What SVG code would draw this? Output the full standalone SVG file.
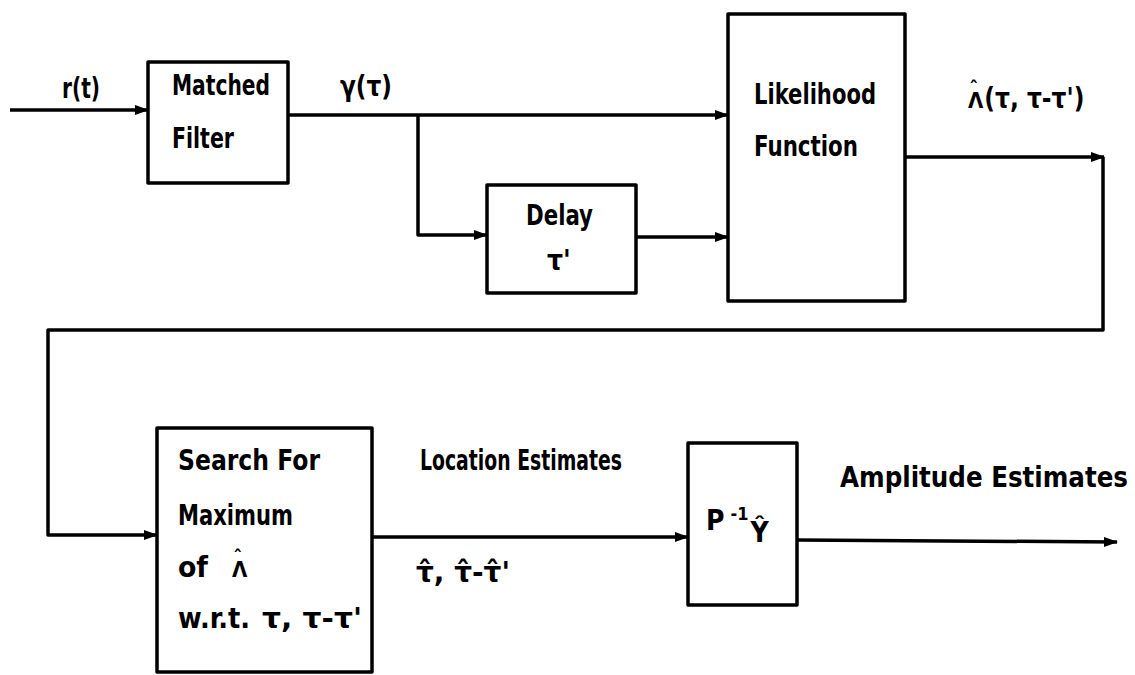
<svg xmlns="http://www.w3.org/2000/svg" width="1135" height="675" viewBox="0 0 1135 675">
<style>
  .box { fill: none; stroke: #000; stroke-width: 3.5; stroke-linejoin: round; }
  .wire { fill: none; stroke: #000; stroke-width: 3.5; stroke-linejoin: round; }
  .t { font-family: "DejaVu Sans Condensed", "Liberation Sans", sans-serif; font-weight: bold; font-size: 28px; fill: #000; white-space: pre; }
</style>
<defs>
  <marker id="arr" markerUnits="userSpaceOnUse" markerWidth="14" markerHeight="10" refX="13" refY="5" orient="auto">
    <path d="M0,0 L14,5 L0,10 z" fill="#000"/>
  </marker>
</defs>
<rect width="1135" height="675" fill="#fff"/>

<g id="connectors">
  <path class="wire" d="M10,110 L148,110" marker-end="url(#arr)"/>
  <path class="wire" d="M288,115 L728,115" marker-end="url(#arr)"/>
  <path class="wire" d="M418,115 L418,235 L487,235" marker-end="url(#arr)"/>
  <path class="wire" d="M636,237 L728,237" marker-end="url(#arr)"/>
  <path class="wire" d="M905,157 L1104,157" marker-end="url(#arr)"/>
  <path class="wire" d="M1103,157 L1103,330 L48,330 L48,535 L157,535" marker-end="url(#arr)"/>
  <path class="wire" d="M372,537 L688,537" marker-end="url(#arr)"/>
  <path class="wire" d="M797,540 L1117,542" marker-end="url(#arr)"/>
</g>

<g id="labels">
  <text class="t" x="62" y="98" textLength="38" lengthAdjust="spacingAndGlyphs">r(t)</text>
  <text class="t" x="340" y="96" textLength="52" lengthAdjust="spacingAndGlyphs">γ(τ)</text>
  <text class="t" x="968" y="108"><tspan font-size="22">Λ</tspan><tspan font-size="20" dx="-14" dy="-13">ˆ</tspan><tspan dy="13" dx="6" textLength="100" lengthAdjust="spacingAndGlyphs">(τ, τ-τ')</tspan></text>
  <text class="t" x="420" y="470" textLength="202" lengthAdjust="spacingAndGlyphs">Location Estimates</text>
  <text class="t" x="416" y="582" textLength="94" lengthAdjust="spacingAndGlyphs">τ̂, τ̂-τ̂'</text>
  <text class="t" x="840" y="487" textLength="288" lengthAdjust="spacingAndGlyphs">Amplitude Estimates</text>
</g>

<g id="matched-filter">
  <rect class="box" x="148" y="62" width="140" height="121"/>
  <text class="t" x="172" y="95" textLength="98" lengthAdjust="spacingAndGlyphs">Matched</text>
  <text class="t" x="172" y="148" textLength="62" lengthAdjust="spacingAndGlyphs">Filter</text>
</g>

<g id="delay">
  <rect class="box" x="487" y="185" width="149" height="108"/>
  <text class="t" x="526" y="225" textLength="67" lengthAdjust="spacingAndGlyphs">Delay</text>
  <text class="t" x="547" y="270">τ'</text>
</g>

<g id="likelihood">
  <rect class="box" x="728" y="14" width="177" height="287"/>
  <text class="t" x="754" y="104" textLength="122" lengthAdjust="spacingAndGlyphs">Likelihood</text>
  <text class="t" x="754" y="156" textLength="104" lengthAdjust="spacingAndGlyphs">Function</text>
</g>

<g id="search">
  <rect class="box" x="157" y="428" width="215" height="244"/>
  <text class="t" x="178" y="470" textLength="142" lengthAdjust="spacingAndGlyphs">Search For</text>
  <text class="t" x="178" y="525" textLength="115" lengthAdjust="spacingAndGlyphs">Maximum</text>
  <text class="t" x="178" y="577"><tspan textLength="30" lengthAdjust="spacingAndGlyphs">of</tspan><tspan x="232" font-size="22">Λ</tspan><tspan font-size="20" dx="-14" dy="-13">ˆ</tspan></text>
  <text class="t" x="178" y="628"><tspan textLength="72" lengthAdjust="spacingAndGlyphs">w.r.t.</tspan><tspan x="262" textLength="100" lengthAdjust="spacingAndGlyphs">τ, τ-τ'</tspan></text>
</g>

<g id="inverse">
  <rect class="box" x="688" y="443" width="109" height="162"/>
  <text class="t" x="706" y="530">P<tspan font-size="18" dx="6" dy="-10">-1</tspan><tspan dx="2" dy="22">Ŷ</tspan></text>
</g>
</svg>
